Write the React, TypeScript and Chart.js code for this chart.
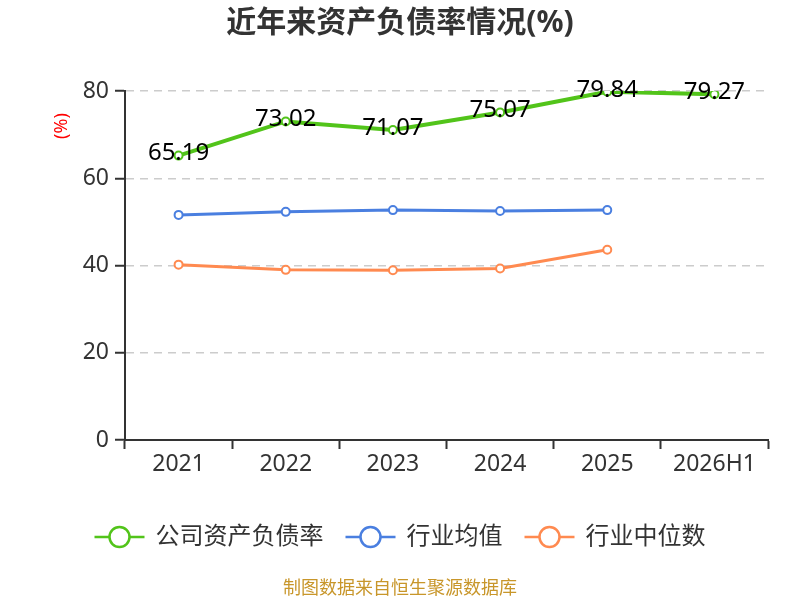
import React, { useEffect, useRef } from "react";
import { Chart, registerables } from "chart.js";

Chart.register(...registerables);

const categories = ["2021", "2022", "2023", "2024", "2025", "2026H1"];
const companyRatio = [65.19, 73.02, 71.07, 75.07, 79.84, 79.27];
const industryAvg = [51.6, 52.3, 52.7, 52.5, 52.7, null];
const industryMedian = [40.2, 39.0, 38.9, 39.3, 43.6, null];
const yTicks = [0, 20, 40, 60, 80];
const seriesNames = ["公司资产负债率", "行业均值", "行业中位数"];
const seriesColors = ["#52C41A", "#4A7FE0", "#FF8A50"];
const titleText = "近年来资产负债率情况(%)";
const unitText = "(%)";
const sourceText = "制图数据来自恒生聚源数据库";

const FONT = "'Noto Sans', 'Noto Sans CJK SC', sans-serif";

const overlayPlugin = {
  id: "overlay",
  afterDatasetsDraw(chart: any) {
    const ctx = chart.ctx;
    const meta = chart.getDatasetMeta(0);
    ctx.save();
    ctx.font = `24px ${FONT}`;
    ctx.fillStyle = "#000";
    ctx.textAlign = "center";
    ctx.textBaseline = "middle";
    meta.data.forEach((pt: any, i: number) => {
      const v = companyRatio[i];
      if (v == null) return;
      ctx.fillText(v.toFixed(2), pt.x, pt.y - 2);
    });
    ctx.restore();
  },
  afterDraw(chart: any) {
    const ctx = chart.ctx;
    ctx.save();
    // title
    ctx.font = `bold 30px ${FONT}`;
    ctx.fillStyle = "#333";
    ctx.textAlign = "center";
    ctx.textBaseline = "middle";
    ctx.fillText(titleText, 400, 23);
    // unit label
    ctx.save();
    ctx.translate(62, 126);
    ctx.rotate(-Math.PI / 2);
    ctx.font = `18px ${FONT}`;
    ctx.fillStyle = "#FF0000";
    ctx.fillText(unitText, 0, 0);
    ctx.restore();
    // legend
    ctx.font = `24px ${FONT}`;
    const markerW = 50;
    const gapText = 11;
    const gapItem = 22;
    const widths = seriesNames.map((n) => ctx.measureText(n).width);
    const total =
      widths.reduce((a, b) => a + b, 0) + seriesNames.length * (markerW + gapText) + gapItem * (seriesNames.length - 1);
    let x = 400 - total / 2;
    const ly = 537;
    seriesNames.forEach((name, i) => {
      ctx.strokeStyle = seriesColors[i];
      ctx.lineWidth = 2.5;
      ctx.beginPath();
      ctx.moveTo(x, ly);
      ctx.lineTo(x + markerW, ly);
      ctx.stroke();
      ctx.beginPath();
      ctx.arc(x + markerW / 2, ly, 10, 0, Math.PI * 2);
      ctx.fillStyle = "#fff";
      ctx.fill();
      ctx.stroke();
      ctx.fillStyle = "#333";
      ctx.textAlign = "left";
      ctx.textBaseline = "middle";
      ctx.fillText(name, x + markerW + gapText, ly);
      x += markerW + gapText + widths[i] + gapItem;
    });
    // source
    ctx.font = `18px ${FONT}`;
    ctx.fillStyle = "#C8962A";
    ctx.textAlign = "center";
    ctx.fillText(sourceText, 400, 589);
    ctx.restore();
  },
};

export default function App() {
  const ref = useRef<HTMLCanvasElement | null>(null);
  useEffect(() => {
    document.body.style.margin = "0";
    const canvas = ref.current;
    if (!canvas) return;
    const mk = (data: any[], i: number, w: number) => ({
      label: seriesNames[i],
      data,
      borderColor: seriesColors[i],
      backgroundColor: seriesColors[i],
      borderWidth: w,
      pointRadius: 4,
      pointHoverRadius: 4,
      pointBorderWidth: 2,
      pointBackgroundColor: "#fff",
      pointBorderColor: seriesColors[i],
      tension: 0,
      spanGaps: false,
    });
    const chart = new Chart(canvas, {
      type: "line",
      data: {
        labels: categories,
        datasets: [mk(companyRatio, 0, 4), mk(industryAvg, 1, 3), mk(industryMedian, 2, 3)] as any,
      },
      options: {
        responsive: false,
        animation: false,
        devicePixelRatio: 1,
        layout: { padding: { left: 0, right: 32, top: 91, bottom: 110 } },
        plugins: { legend: { display: false }, title: { display: false }, tooltip: { enabled: false } },
        scales: {
          x: {
            type: "category",
            offset: true,
            grid: {
              offset: true,
              drawOnChartArea: false,
              drawTicks: true,
              tickLength: 9,
              tickColor: "#333",
              tickWidth: 2,
            },
            border: { display: true, color: "#333", width: 2 },
            ticks: { color: "#333", font: { size: 23, family: FONT }, padding: 2, maxRotation: 0 },
            afterFit: (s: any) => {
              s.height = 50;
            },
          },
          y: {
            min: 0,
            max: 80,
            afterBuildTicks: (s: any) => {
              s.ticks = yTicks.map((v) => ({ value: v }));
            },
            grid: {
              color: "#CCCCCC",
              lineWidth: 1.5,
              drawTicks: true,
              tickLength: 10,
              tickColor: "#333",
              tickWidth: 2,
              tickBorderDash: [],
            },
            border: { display: true, color: "#333", width: 2, dash: [8, 6] },
            ticks: { color: "#333", font: { size: 23, family: FONT }, padding: 6 },
            afterFit: (s: any) => {
              s.width = 125;
            },
          },
        },
      } as any,
      plugins: [overlayPlugin],
    });
    return () => chart.destroy();
  }, []);
  return (
    <div style={{ position: "absolute", left: 0, top: 0, width: 800, height: 600 }}>
      <canvas ref={ref} width={800} height={600} style={{ width: 800, height: 600, display: "block" }} />
    </div>
  );
}
